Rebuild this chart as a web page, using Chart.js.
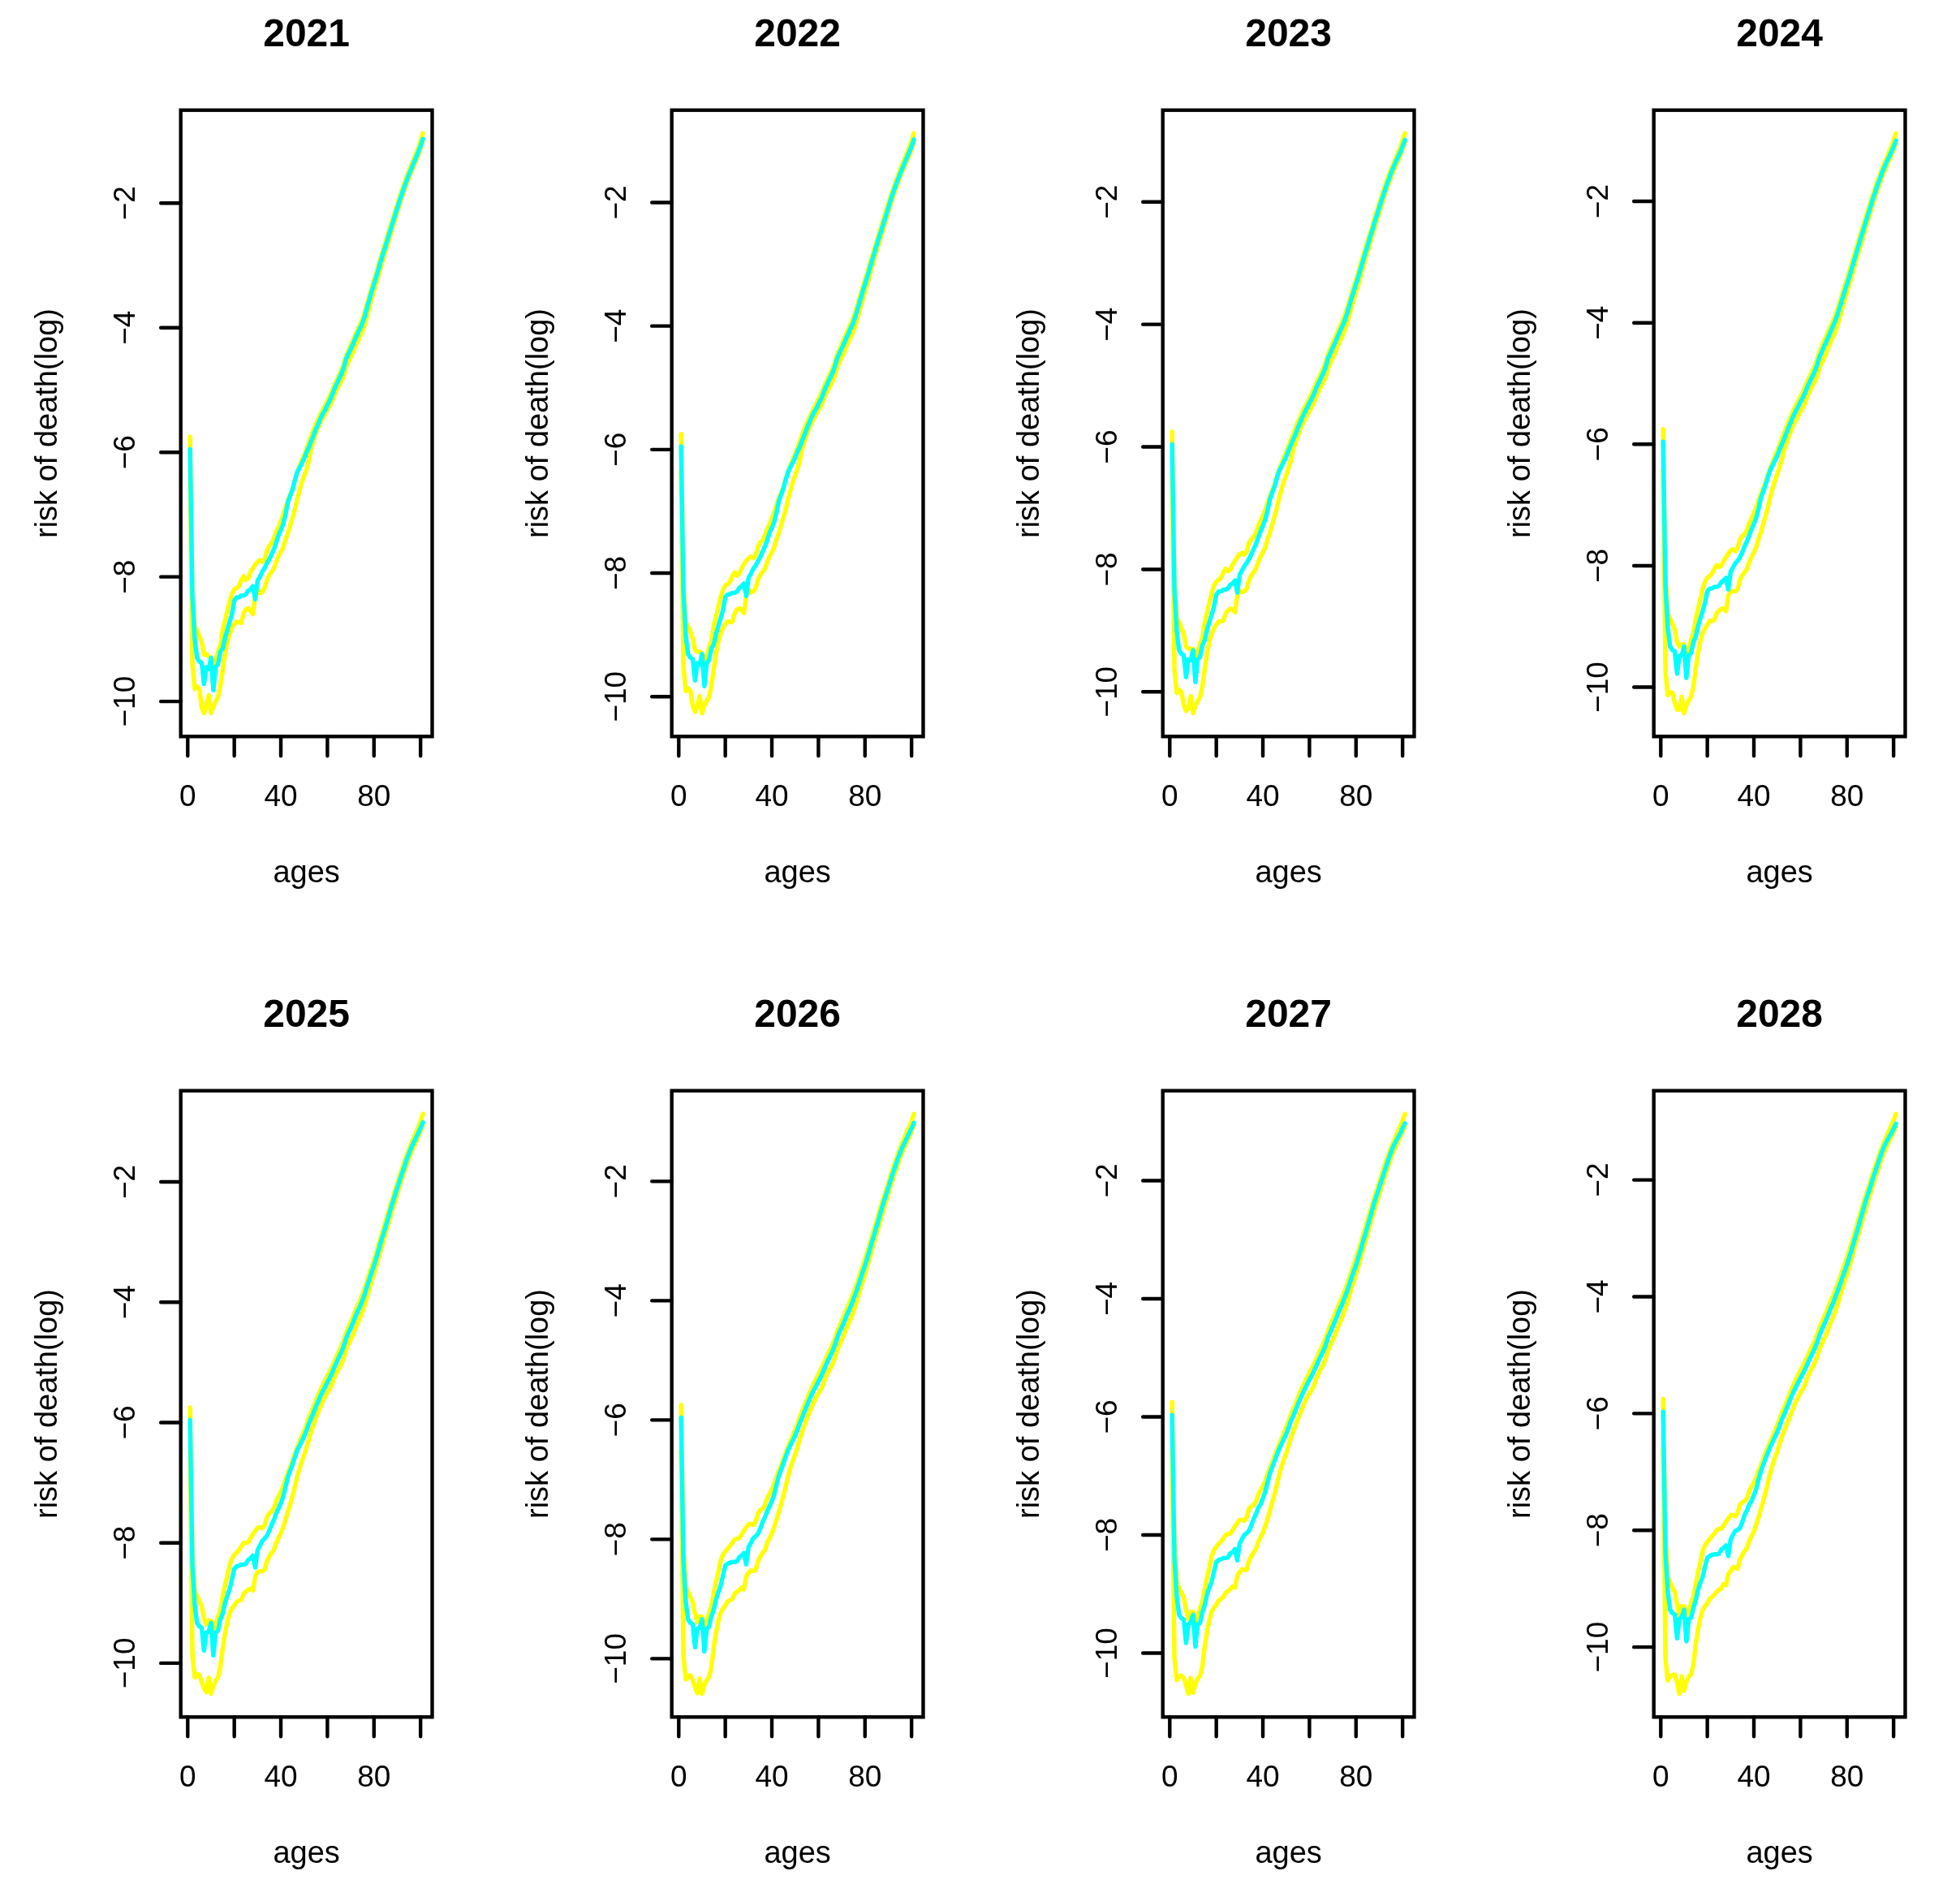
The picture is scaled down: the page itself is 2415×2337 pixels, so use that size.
<!DOCTYPE html>
<html>
<head>
<meta charset="utf-8">
<script src="https://cdn.jsdelivr.net/npm/chart.js@4.4.0/dist/chart.umd.min.js"></script>
<style>
html,body{margin:0;padding:0;background:#fff;}
#wrap{position:relative;width:2415px;height:2337px;overflow:hidden;background:#fff;}
#wrap canvas{position:absolute;}
</style>
</head>
<body>
<div id="wrap"></div>
<script>
const YEARS = ['2021','2022','2023','2024','2025','2026','2027','2028'];
const AGES = [1,2,3,4,5,6,7,8,9,10,11,12,13,14,15,16,17,18,19,20,21,22,23,24,25,26,27,28,29,30,
31,32,33,34,35,36,37,38,39,40,41,42,43,44,45,46,47,48,49,50,51,52,53,54,55,56,57,58,59,60,
61,62,63,64,65,66,67,68,69,70,71,72,73,74,75,76,77,78,79,80,81,82,83,84,85,86,87,88,89,90,
91,92,93,94,95,96,97,98,99,100,101];
const X_TICKS = [0,20,40,60,80,100];
const X_TICK_LABELS = ['0','','40','','80',''];
const Y_TICKS = [-10,-8,-6,-4,-2];
const Y_TICK_LABELS = ['\u221210','\u22128','\u22126','\u22124','\u22122'];
const X_TITLE = 'ages';
const Y_TITLE = 'risk of death(log)';

const MEDIAN_2021 = [-5.95,-8.3,-9.0,-9.3,-9.36,-9.38,-9.72,-9.45,-9.48,-9.3,
-9.82,-9.45,-9.4,-9.2,-9.15,-8.98,-8.85,-8.72,-8.6,-8.38,
-8.33,-8.33,-8.3,-8.3,-8.28,-8.22,-8.2,-8.15,-8.36,-8.06,
-8.0,-7.92,-7.86,-7.78,-7.72,-7.64,-7.56,-7.45,-7.33,-7.25,
-7.15,-7.0,-6.8,-6.7,-6.6,-6.45,-6.32,-6.25,-6.18,-6.1,
-6.0,-5.92,-5.82,-5.73,-5.63,-5.55,-5.46,-5.38,-5.32,-5.24,
-5.17,-5.08,-4.98,-4.9,-4.82,-4.74,-4.64,-4.5,-4.42,-4.34,
-4.26,-4.17,-4.09,-4.01,-3.93,-3.82,-3.68,-3.55,-3.42,-3.3,
-3.18,-3.05,-2.92,-2.8,-2.68,-2.56,-2.44,-2.32,-2.2,-2.08,
-1.96,-1.85,-1.74,-1.64,-1.54,-1.45,-1.36,-1.27,-1.18,-1.08,
-0.97];
const UPPER_2021 = [-5.75,-8.2,-8.8,-8.85,-8.95,-9.05,-9.25,-9.24,-9.28,-9.3,
-9.42,-9.34,-9.2,-9.1,-8.85,-8.7,-8.55,-8.4,-8.27,-8.2,
-8.18,-8.15,-8.05,-7.99,-8.05,-8.02,-7.92,-7.86,-7.8,-7.76,
-7.73,-7.76,-7.72,-7.58,-7.5,-7.46,-7.38,-7.27,-7.2,-7.1,
-7.0,-6.88,-6.78,-6.68,-6.6,-6.45,-6.33,-6.22,-6.12,-6.05,
-5.95,-5.84,-5.74,-5.64,-5.55,-5.47,-5.39,-5.32,-5.25,-5.17,
-5.1,-5.01,-4.92,-4.84,-4.76,-4.68,-4.58,-4.45,-4.37,-4.28,
-4.2,-4.11,-4.03,-3.95,-3.86,-3.75,-3.62,-3.49,-3.36,-3.24,
-3.12,-2.99,-2.86,-2.74,-2.62,-2.5,-2.38,-2.26,-2.14,-2.02,
-1.9,-1.79,-1.68,-1.58,-1.48,-1.39,-1.3,-1.21,-1.12,-1.0,
-0.88];
const LOWER_2021 = [-6.3,-9.4,-9.8,-9.76,-9.8,-10.1,-10.19,-10.05,-9.9,-10.19,
-10.08,-10.0,-9.93,-9.75,-9.5,-9.25,-9.05,-8.92,-8.82,-8.76,
-8.72,-8.73,-8.74,-8.58,-8.52,-8.5,-8.55,-8.6,-8.3,-8.2,
-8.26,-8.25,-8.18,-8.05,-7.97,-7.92,-7.87,-7.76,-7.67,-7.6,
-7.53,-7.4,-7.3,-7.17,-7.05,-6.93,-6.75,-6.62,-6.48,-6.38,
-6.28,-6.14,-5.94,-5.82,-5.7,-5.6,-5.52,-5.46,-5.38,-5.32,
-5.26,-5.18,-5.08,-5.0,-4.93,-4.86,-4.78,-4.64,-4.55,-4.47,
-4.39,-4.3,-4.22,-4.14,-4.06,-3.96,-3.82,-3.68,-3.54,-3.41,
-3.29,-3.15,-3.02,-2.89,-2.76,-2.64,-2.52,-2.39,-2.27,-2.14,
-2.02,-1.9,-1.79,-1.69,-1.59,-1.5,-1.41,-1.32,-1.23,-1.12,
-1.0];

const MEDIAN_2022 = [-5.95,-8.31,-9.01,-9.31,-9.37,-9.39,-9.74,-9.46,-9.48,-9.31,
-9.83,-9.46,-9.41,-9.22,-9.16,-8.99,-8.86,-8.73,-8.6,-8.39,
-8.35,-8.34,-8.32,-8.32,-8.3,-8.24,-8.21,-8.17,-8.37,-8.07,
-8.01,-7.93,-7.88,-7.81,-7.74,-7.65,-7.57,-7.47,-7.35,-7.27,
-7.17,-7.02,-6.83,-6.73,-6.62,-6.48,-6.36,-6.28,-6.21,-6.13,
-6.03,-5.95,-5.85,-5.76,-5.66,-5.57,-5.48,-5.4,-5.34,-5.26,
-5.19,-5.1,-5.0,-4.92,-4.84,-4.76,-4.66,-4.53,-4.44,-4.36,
-4.28,-4.19,-4.11,-4.02,-3.94,-3.83,-3.7,-3.57,-3.44,-3.32,
-3.2,-3.07,-2.94,-2.82,-2.69,-2.57,-2.45,-2.33,-2.21,-2.09,
-1.96,-1.85,-1.74,-1.64,-1.54,-1.45,-1.36,-1.27,-1.18,-1.09,
-0.98];
const UPPER_2022 = [-5.75,-8.19,-8.8,-8.86,-8.95,-9.05,-9.25,-9.27,-9.28,-9.3,
-9.42,-9.35,-9.21,-9.1,-8.86,-8.7,-8.55,-8.39,-8.27,-8.2,
-8.18,-8.14,-8.05,-7.99,-8.04,-8.01,-7.92,-7.86,-7.8,-7.76,
-7.73,-7.76,-7.72,-7.58,-7.5,-7.47,-7.39,-7.28,-7.21,-7.11,
-7.01,-6.89,-6.79,-6.69,-6.61,-6.47,-6.35,-6.25,-6.15,-6.07,
-5.97,-5.86,-5.76,-5.66,-5.57,-5.49,-5.41,-5.33,-5.26,-5.18,
-5.11,-5.02,-4.93,-4.85,-4.77,-4.69,-4.59,-4.46,-4.38,-4.29,
-4.21,-4.12,-4.04,-3.95,-3.86,-3.75,-3.63,-3.5,-3.37,-3.25,
-3.13,-3.0,-2.87,-2.75,-2.63,-2.5,-2.38,-2.26,-2.14,-2.02,
-1.9,-1.79,-1.68,-1.58,-1.47,-1.38,-1.29,-1.2,-1.11,-1.0,
-0.88];
const LOWER_2022 = [-6.34,-9.51,-9.91,-9.87,-9.9,-10.15,-10.25,-10.16,-9.99,-10.27,
-10.15,-10.07,-10.01,-9.83,-9.56,-9.31,-9.11,-8.98,-8.89,-8.83,
-8.78,-8.79,-8.79,-8.65,-8.59,-8.57,-8.6,-8.65,-8.36,-8.27,
-8.31,-8.3,-8.25,-8.11,-8.03,-7.98,-7.93,-7.82,-7.73,-7.66,
-7.58,-7.45,-7.35,-7.22,-7.09,-6.97,-6.79,-6.66,-6.52,-6.42,
-6.31,-6.18,-5.99,-5.87,-5.76,-5.66,-5.57,-5.51,-5.43,-5.36,
-5.3,-5.22,-5.12,-5.04,-4.97,-4.9,-4.82,-4.68,-4.59,-4.51,
-4.43,-4.33,-4.25,-4.17,-4.09,-3.98,-3.84,-3.71,-3.57,-3.44,
-3.32,-3.18,-3.05,-2.91,-2.78,-2.66,-2.54,-2.41,-2.28,-2.15,
-2.03,-1.91,-1.8,-1.7,-1.59,-1.5,-1.41,-1.32,-1.24,-1.13,
-1.01];

const MEDIAN_2023 = [-5.96,-8.33,-9.01,-9.32,-9.38,-9.4,-9.76,-9.47,-9.48,-9.32,
-9.84,-9.47,-9.43,-9.24,-9.16,-8.99,-8.86,-8.74,-8.61,-8.41,
-8.36,-8.36,-8.33,-8.33,-8.31,-8.25,-8.23,-8.18,-8.38,-8.09,
-8.02,-7.95,-7.9,-7.83,-7.76,-7.67,-7.59,-7.48,-7.38,-7.29,
-7.19,-7.04,-6.86,-6.75,-6.65,-6.51,-6.39,-6.32,-6.24,-6.16,
-6.06,-5.97,-5.88,-5.79,-5.69,-5.6,-5.51,-5.43,-5.36,-5.28,
-5.21,-5.13,-5.03,-4.95,-4.87,-4.79,-4.69,-4.55,-4.47,-4.38,
-4.3,-4.21,-4.12,-4.04,-3.95,-3.84,-3.71,-3.58,-3.46,-3.34,
-3.22,-3.09,-2.96,-2.83,-2.71,-2.58,-2.46,-2.33,-2.21,-2.09,
-1.97,-1.86,-1.74,-1.64,-1.53,-1.44,-1.35,-1.27,-1.19,-1.09,
-0.99];
const UPPER_2023 = [-5.75,-8.17,-8.8,-8.86,-8.96,-9.05,-9.26,-9.3,-9.29,-9.3,
-9.43,-9.35,-9.21,-9.11,-8.87,-8.71,-8.55,-8.39,-8.26,-8.2,
-8.17,-8.14,-8.05,-7.99,-8.03,-8.01,-7.92,-7.86,-7.8,-7.75,
-7.73,-7.76,-7.71,-7.57,-7.51,-7.47,-7.4,-7.29,-7.21,-7.12,
-7.03,-6.91,-6.81,-6.71,-6.62,-6.49,-6.37,-6.27,-6.17,-6.09,
-5.99,-5.88,-5.79,-5.69,-5.59,-5.51,-5.42,-5.35,-5.28,-5.2,
-5.13,-5.04,-4.95,-4.87,-4.79,-4.71,-4.61,-4.48,-4.39,-4.3,
-4.22,-4.13,-4.04,-3.96,-3.87,-3.76,-3.63,-3.51,-3.38,-3.27,
-3.14,-3.01,-2.88,-2.76,-2.63,-2.51,-2.39,-2.26,-2.14,-2.02,
-1.9,-1.79,-1.67,-1.57,-1.47,-1.38,-1.29,-1.2,-1.11,-0.99,
-0.88];
const LOWER_2023 = [-6.39,-9.63,-10.02,-9.97,-10.0,-10.21,-10.31,-10.27,-10.07,-10.35,
-10.23,-10.15,-10.09,-9.91,-9.63,-9.38,-9.18,-9.05,-8.96,-8.9,
-8.85,-8.85,-8.84,-8.72,-8.67,-8.64,-8.66,-8.7,-8.43,-8.35,
-8.37,-8.36,-8.32,-8.18,-8.1,-8.05,-7.99,-7.88,-7.79,-7.72,
-7.64,-7.51,-7.4,-7.27,-7.14,-7.0,-6.83,-6.7,-6.56,-6.46,
-6.35,-6.22,-6.04,-5.93,-5.82,-5.72,-5.63,-5.56,-5.48,-5.41,
-5.35,-5.27,-5.17,-5.09,-5.01,-4.94,-4.86,-4.72,-4.63,-4.55,
-4.47,-4.37,-4.28,-4.2,-4.11,-4.01,-3.87,-3.73,-3.6,-3.47,
-3.35,-3.21,-3.07,-2.94,-2.81,-2.68,-2.55,-2.42,-2.3,-2.17,
-2.05,-1.92,-1.81,-1.7,-1.6,-1.51,-1.42,-1.33,-1.24,-1.14,
-1.03];

const MEDIAN_2024 = [-5.96,-8.34,-9.02,-9.33,-9.39,-9.41,-9.78,-9.48,-9.48,-9.33,
-9.85,-9.48,-9.44,-9.26,-9.17,-9.0,-8.87,-8.75,-8.61,-8.42,
-8.38,-8.37,-8.35,-8.35,-8.33,-8.27,-8.24,-8.2,-8.39,-8.1,
-8.03,-7.96,-7.92,-7.86,-7.78,-7.68,-7.6,-7.5,-7.4,-7.31,
-7.21,-7.06,-6.88,-6.78,-6.67,-6.54,-6.43,-6.35,-6.27,-6.19,
-6.09,-6.0,-5.91,-5.81,-5.71,-5.62,-5.53,-5.45,-5.38,-5.3,
-5.23,-5.15,-5.05,-4.97,-4.89,-4.81,-4.71,-4.58,-4.49,-4.4,
-4.32,-4.23,-4.14,-4.05,-3.96,-3.85,-3.73,-3.6,-3.48,-3.36,
-3.24,-3.11,-2.98,-2.85,-2.72,-2.59,-2.47,-2.34,-2.22,-2.1,
-1.97,-1.86,-1.74,-1.64,-1.53,-1.44,-1.35,-1.27,-1.19,-1.1,
-1.0];
const UPPER_2024 = [-5.75,-8.16,-8.8,-8.87,-8.96,-9.05,-9.26,-9.33,-9.29,-9.3,
-9.43,-9.36,-9.22,-9.11,-8.88,-8.71,-8.55,-8.38,-8.26,-8.2,
-8.17,-8.13,-8.05,-7.99,-8.02,-8.0,-7.92,-7.86,-7.8,-7.75,
-7.73,-7.76,-7.71,-7.57,-7.51,-7.48,-7.41,-7.3,-7.22,-7.13,
-7.04,-6.92,-6.82,-6.72,-6.63,-6.51,-6.39,-6.3,-6.2,-6.11,
-6.01,-5.9,-5.81,-5.71,-5.61,-5.53,-5.44,-5.36,-5.29,-5.21,
-5.14,-5.05,-4.96,-4.88,-4.8,-4.72,-4.62,-4.49,-4.4,-4.31,
-4.23,-4.14,-4.05,-3.96,-3.87,-3.76,-3.64,-3.52,-3.39,-3.28,
-3.15,-3.02,-2.89,-2.77,-2.64,-2.51,-2.39,-2.26,-2.14,-2.02,
-1.9,-1.79,-1.67,-1.57,-1.46,-1.37,-1.28,-1.19,-1.1,-0.99,
-0.88];
const LOWER_2024 = [-6.43,-9.74,-10.13,-10.08,-10.09,-10.26,-10.37,-10.37,-10.16,-10.43,
-10.3,-10.22,-10.16,-9.99,-9.69,-9.44,-9.24,-9.11,-9.03,-8.97,
-8.91,-8.91,-8.89,-8.78,-8.74,-8.71,-8.71,-8.75,-8.49,-8.42,
-8.42,-8.42,-8.39,-8.24,-8.16,-8.11,-8.05,-7.94,-7.85,-7.78,
-7.69,-7.56,-7.45,-7.31,-7.18,-7.04,-6.87,-6.73,-6.6,-6.5,
-6.38,-6.25,-6.09,-5.98,-5.87,-5.77,-5.68,-5.61,-5.53,-5.46,
-5.4,-5.32,-5.21,-5.13,-5.05,-4.98,-4.9,-4.76,-4.67,-4.59,
-4.5,-4.4,-4.31,-4.23,-4.14,-4.03,-3.89,-3.76,-3.63,-3.5,
-3.37,-3.24,-3.1,-2.96,-2.83,-2.7,-2.57,-2.44,-2.31,-2.18,
-2.06,-1.93,-1.82,-1.71,-1.6,-1.51,-1.42,-1.33,-1.25,-1.15,
-1.04];

const MEDIAN_2025 = [-5.96,-8.36,-9.03,-9.33,-9.39,-9.41,-9.79,-9.49,-9.48,-9.33,
-9.87,-9.49,-9.46,-9.27,-9.18,-9.0,-8.88,-8.77,-8.61,-8.43,
-8.39,-8.38,-8.36,-8.36,-8.35,-8.28,-8.26,-8.21,-8.41,-8.12,
-8.05,-7.97,-7.93,-7.88,-7.8,-7.7,-7.62,-7.51,-7.43,-7.34,
-7.23,-7.07,-6.91,-6.8,-6.7,-6.58,-6.46,-6.39,-6.31,-6.23,
-6.13,-6.02,-5.93,-5.84,-5.74,-5.65,-5.56,-5.48,-5.41,-5.33,
-5.26,-5.17,-5.08,-4.99,-4.91,-4.83,-4.73,-4.6,-4.51,-4.43,
-4.34,-4.24,-4.15,-4.07,-3.97,-3.87,-3.74,-3.62,-3.5,-3.39,
-3.26,-3.13,-2.99,-2.87,-2.74,-2.61,-2.47,-2.34,-2.22,-2.1,
-1.98,-1.86,-1.75,-1.63,-1.53,-1.43,-1.35,-1.27,-1.19,-1.1,
-1.01];
const UPPER_2025 = [-5.75,-8.14,-8.8,-8.88,-8.97,-9.05,-9.26,-9.36,-9.29,-9.3,
-9.44,-9.36,-9.23,-9.12,-8.89,-8.71,-8.55,-8.37,-8.26,-8.2,
-8.16,-8.12,-8.06,-8.0,-8.0,-7.99,-7.92,-7.85,-7.8,-7.75,
-7.74,-7.76,-7.71,-7.57,-7.51,-7.48,-7.42,-7.3,-7.23,-7.15,
-7.06,-6.94,-6.84,-6.74,-6.64,-6.52,-6.42,-6.32,-6.22,-6.14,
-6.04,-5.92,-5.83,-5.73,-5.64,-5.54,-5.46,-5.38,-5.3,-5.22,
-5.15,-5.07,-4.98,-4.89,-4.81,-4.73,-4.63,-4.51,-4.42,-4.33,
-4.24,-4.14,-4.05,-3.97,-3.87,-3.77,-3.65,-3.52,-3.41,-3.29,
-3.17,-3.04,-2.91,-2.78,-2.65,-2.52,-2.39,-2.27,-2.15,-2.03,
-1.9,-1.78,-1.67,-1.56,-1.46,-1.36,-1.27,-1.18,-1.09,-0.99,
-0.87];
const LOWER_2025 = [-6.47,-9.86,-10.24,-10.18,-10.19,-10.31,-10.42,-10.48,-10.24,-10.51,
-10.38,-10.29,-10.24,-10.06,-9.76,-9.51,-9.31,-9.17,-9.09,-9.04,
-8.98,-8.96,-8.95,-8.85,-8.81,-8.78,-8.76,-8.79,-8.56,-8.49,
-8.47,-8.47,-8.45,-8.31,-8.23,-8.17,-8.12,-8.0,-7.92,-7.84,
-7.74,-7.62,-7.49,-7.36,-7.22,-7.07,-6.9,-6.77,-6.64,-6.54,
-6.42,-6.29,-6.15,-6.04,-5.93,-5.83,-5.74,-5.65,-5.57,-5.5,
-5.44,-5.36,-5.25,-5.17,-5.1,-5.03,-4.93,-4.8,-4.7,-4.62,
-4.54,-4.44,-4.35,-4.26,-4.16,-4.05,-3.92,-3.78,-3.65,-3.53,
-3.4,-3.26,-3.12,-2.99,-2.85,-2.72,-2.59,-2.45,-2.33,-2.2,
-2.07,-1.95,-1.83,-1.72,-1.61,-1.51,-1.42,-1.34,-1.25,-1.15,
-1.05];

const MEDIAN_2026 = [-5.96,-8.37,-9.04,-9.34,-9.4,-9.42,-9.81,-9.5,-9.48,-9.34,
-9.88,-9.5,-9.47,-9.29,-9.19,-9.01,-8.89,-8.78,-8.61,-8.44,
-8.41,-8.39,-8.38,-8.38,-8.37,-8.3,-8.27,-8.23,-8.42,-8.13,
-8.06,-7.98,-7.95,-7.91,-7.82,-7.71,-7.63,-7.53,-7.45,-7.36,
-7.25,-7.09,-6.93,-6.83,-6.72,-6.61,-6.5,-6.42,-6.34,-6.26,
-6.16,-6.05,-5.96,-5.86,-5.76,-5.67,-5.58,-5.5,-5.43,-5.35,
-5.28,-5.19,-5.1,-5.01,-4.93,-4.85,-4.75,-4.63,-4.53,-4.45,
-4.36,-4.26,-4.17,-4.08,-3.98,-3.88,-3.76,-3.64,-3.52,-3.41,
-3.28,-3.15,-3.01,-2.89,-2.75,-2.62,-2.48,-2.35,-2.23,-2.11,
-1.98,-1.86,-1.75,-1.63,-1.53,-1.43,-1.35,-1.27,-1.19,-1.11,
-1.02];
const UPPER_2026 = [-5.75,-8.13,-8.8,-8.89,-8.97,-9.05,-9.26,-9.39,-9.29,-9.3,
-9.44,-9.37,-9.24,-9.12,-8.9,-8.71,-8.55,-8.36,-8.26,-8.2,
-8.16,-8.11,-8.06,-8.0,-7.99,-7.98,-7.92,-7.85,-7.8,-7.75,
-7.74,-7.76,-7.71,-7.57,-7.51,-7.49,-7.43,-7.31,-7.24,-7.16,
-7.07,-6.95,-6.85,-6.75,-6.65,-6.54,-6.44,-6.35,-6.25,-6.16,
-6.06,-5.94,-5.85,-5.75,-5.66,-5.56,-5.48,-5.39,-5.31,-5.23,
-5.16,-5.08,-4.99,-4.9,-4.82,-4.74,-4.64,-4.52,-4.43,-4.34,
-4.25,-4.15,-4.06,-3.97,-3.87,-3.77,-3.66,-3.53,-3.42,-3.3,
-3.18,-3.05,-2.92,-2.79,-2.66,-2.52,-2.39,-2.27,-2.15,-2.03,
-1.9,-1.78,-1.67,-1.56,-1.45,-1.35,-1.26,-1.17,-1.08,-0.99,
-0.87];
const LOWER_2026 = [-6.51,-9.97,-10.35,-10.29,-10.28,-10.36,-10.48,-10.58,-10.33,-10.59,
-10.45,-10.36,-10.31,-10.14,-9.82,-9.57,-9.37,-9.23,-9.16,-9.11,
-9.04,-9.02,-9.0,-8.91,-8.88,-8.85,-8.81,-8.84,-8.62,-8.56,
-8.52,-8.53,-8.52,-8.37,-8.29,-8.23,-8.18,-8.06,-7.98,-7.9,
-7.79,-7.67,-7.54,-7.4,-7.26,-7.11,-6.94,-6.8,-6.68,-6.58,
-6.45,-6.32,-6.2,-6.09,-5.98,-5.88,-5.79,-5.7,-5.62,-5.55,
-5.49,-5.41,-5.29,-5.21,-5.14,-5.07,-4.97,-4.84,-4.74,-4.66,
-4.57,-4.47,-4.38,-4.29,-4.19,-4.07,-3.94,-3.81,-3.68,-3.56,
-3.42,-3.29,-3.15,-3.01,-2.87,-2.74,-2.61,-2.47,-2.34,-2.21,
-2.08,-1.96,-1.84,-1.73,-1.61,-1.51,-1.42,-1.34,-1.26,-1.16,
-1.06];

const MEDIAN_2027 = [-5.97,-8.39,-9.04,-9.35,-9.41,-9.43,-9.83,-9.51,-9.48,-9.35,
-9.89,-9.51,-9.49,-9.31,-9.19,-9.01,-8.89,-8.79,-8.62,-8.46,
-8.42,-8.41,-8.39,-8.39,-8.38,-8.31,-8.29,-8.24,-8.43,-8.15,
-8.07,-8.0,-7.97,-7.93,-7.84,-7.73,-7.65,-7.54,-7.48,-7.38,
-7.27,-7.11,-6.96,-6.85,-6.75,-6.64,-6.54,-6.46,-6.37,-6.29,
-6.19,-6.07,-5.99,-5.89,-5.79,-5.7,-5.61,-5.53,-5.45,-5.37,
-5.3,-5.22,-5.13,-5.04,-4.96,-4.88,-4.78,-4.65,-4.56,-4.47,
-4.38,-4.28,-4.18,-4.1,-3.99,-3.89,-3.77,-3.65,-3.54,-3.43,
-3.3,-3.17,-3.03,-2.9,-2.77,-2.63,-2.49,-2.35,-2.23,-2.11,
-1.99,-1.87,-1.75,-1.63,-1.52,-1.42,-1.34,-1.27,-1.2,-1.11,
-1.03];
const UPPER_2027 = [-5.75,-8.11,-8.8,-8.89,-8.98,-9.05,-9.27,-9.42,-9.3,-9.3,
-9.45,-9.37,-9.24,-9.13,-8.91,-8.72,-8.55,-8.36,-8.25,-8.2,
-8.15,-8.11,-8.06,-8.0,-7.98,-7.98,-7.92,-7.85,-7.8,-7.74,
-7.74,-7.76,-7.7,-7.56,-7.52,-7.49,-7.44,-7.32,-7.24,-7.17,
-7.09,-6.97,-6.87,-6.77,-6.66,-6.56,-6.46,-6.37,-6.27,-6.18,
-6.08,-5.96,-5.88,-5.78,-5.68,-5.58,-5.49,-5.41,-5.33,-5.25,
-5.18,-5.1,-5.01,-4.92,-4.84,-4.76,-4.66,-4.54,-4.44,-4.35,
-4.26,-4.16,-4.06,-3.98,-3.88,-3.78,-3.66,-3.54,-3.43,-3.32,
-3.19,-3.06,-2.93,-2.8,-2.66,-2.53,-2.4,-2.27,-2.15,-2.03,
-1.9,-1.78,-1.66,-1.55,-1.45,-1.35,-1.26,-1.17,-1.08,-0.98,
-0.87];
const LOWER_2027 = [-6.56,-10.09,-10.46,-10.4,-10.38,-10.42,-10.54,-10.69,-10.42,-10.67,
-10.53,-10.43,-10.39,-10.22,-9.89,-9.64,-9.44,-9.3,-9.23,-9.18,
-9.11,-9.08,-9.05,-8.98,-8.95,-8.92,-8.87,-8.89,-8.69,-8.63,
-8.58,-8.59,-8.59,-8.44,-8.36,-8.3,-8.24,-8.12,-8.04,-7.96,
-7.85,-7.73,-7.59,-7.45,-7.31,-7.15,-6.98,-6.84,-6.72,-6.62,
-6.49,-6.36,-6.25,-6.15,-6.04,-5.94,-5.85,-5.75,-5.67,-5.6,
-5.54,-5.46,-5.34,-5.26,-5.18,-5.11,-5.01,-4.88,-4.78,-4.7,
-4.61,-4.51,-4.41,-4.32,-4.21,-4.1,-3.97,-3.83,-3.71,-3.59,
-3.45,-3.32,-3.17,-3.04,-2.9,-2.76,-2.62,-2.48,-2.36,-2.23,
-2.1,-1.97,-1.85,-1.73,-1.62,-1.52,-1.43,-1.35,-1.26,-1.17,
-1.08];

const MEDIAN_2028 = [-5.97,-8.4,-9.05,-9.36,-9.42,-9.44,-9.85,-9.52,-9.48,-9.36,
-9.9,-9.52,-9.5,-9.33,-9.2,-9.02,-8.9,-8.8,-8.62,-8.47,
-8.44,-8.42,-8.41,-8.41,-8.4,-8.33,-8.3,-8.26,-8.44,-8.16,
-8.08,-8.01,-7.99,-7.96,-7.86,-7.74,-7.66,-7.56,-7.5,-7.4,
-7.29,-7.13,-6.99,-6.88,-6.77,-6.67,-6.57,-6.49,-6.4,-6.32,
-6.22,-6.1,-6.02,-5.92,-5.82,-5.72,-5.63,-5.55,-5.47,-5.39,
-5.32,-5.24,-5.15,-5.06,-4.98,-4.9,-4.8,-4.68,-4.58,-4.49,
-4.4,-4.3,-4.2,-4.11,-4.0,-3.9,-3.79,-3.67,-3.56,-3.45,
-3.32,-3.19,-3.05,-2.92,-2.78,-2.64,-2.5,-2.36,-2.24,-2.12,
-1.99,-1.87,-1.75,-1.63,-1.52,-1.42,-1.34,-1.27,-1.2,-1.12,
-1.04];
const UPPER_2028 = [-5.75,-8.1,-8.8,-8.9,-8.98,-9.05,-9.27,-9.45,-9.3,-9.3,
-9.45,-9.38,-9.25,-9.13,-8.92,-8.72,-8.55,-8.35,-8.25,-8.2,
-8.15,-8.1,-8.06,-8.0,-7.97,-7.97,-7.92,-7.85,-7.8,-7.74,
-7.74,-7.76,-7.7,-7.56,-7.52,-7.5,-7.45,-7.33,-7.25,-7.18,
-7.1,-6.98,-6.88,-6.78,-6.67,-6.58,-6.48,-6.4,-6.3,-6.2,
-6.1,-5.98,-5.9,-5.8,-5.7,-5.6,-5.51,-5.42,-5.34,-5.26,
-5.19,-5.11,-5.02,-4.93,-4.85,-4.77,-4.67,-4.55,-4.45,-4.36,
-4.27,-4.17,-4.07,-3.98,-3.88,-3.78,-3.67,-3.55,-3.44,-3.33,
-3.2,-3.07,-2.94,-2.81,-2.67,-2.53,-2.4,-2.27,-2.15,-2.03,
-1.9,-1.78,-1.66,-1.55,-1.44,-1.34,-1.25,-1.16,-1.07,-0.98,
-0.87];
const LOWER_2028 = [-6.6,-10.2,-10.57,-10.5,-10.48,-10.47,-10.6,-10.8,-10.5,-10.75,
-10.6,-10.5,-10.47,-10.3,-9.95,-9.7,-9.5,-9.36,-9.3,-9.25,
-9.17,-9.14,-9.1,-9.05,-9.02,-8.99,-8.92,-8.94,-8.75,-8.7,
-8.63,-8.64,-8.66,-8.5,-8.42,-8.36,-8.3,-8.18,-8.1,-8.02,
-7.9,-7.78,-7.64,-7.5,-7.35,-7.18,-7.02,-6.88,-6.76,-6.66,
-6.52,-6.4,-6.3,-6.2,-6.1,-6.0,-5.9,-5.8,-5.72,-5.64,
-5.58,-5.5,-5.38,-5.3,-5.22,-5.15,-5.05,-4.92,-4.82,-4.74,
-4.65,-4.54,-4.44,-4.35,-4.24,-4.12,-3.99,-3.86,-3.74,-3.62,
-3.48,-3.35,-3.2,-3.06,-2.92,-2.78,-2.64,-2.5,-2.37,-2.24,
-2.11,-1.98,-1.86,-1.74,-1.62,-1.52,-1.43,-1.35,-1.27,-1.18,
-1.09];

const MEDIANS = [MEDIAN_2021,MEDIAN_2022,MEDIAN_2023,MEDIAN_2024,MEDIAN_2025,MEDIAN_2026,MEDIAN_2027,MEDIAN_2028];
const UPPERS  = [UPPER_2021,UPPER_2022,UPPER_2023,UPPER_2024,UPPER_2025,UPPER_2026,UPPER_2027,UPPER_2028];
const LOWERS  = [LOWER_2021,LOWER_2022,LOWER_2023,LOWER_2024,LOWER_2025,LOWER_2026,LOWER_2027,LOWER_2028];

// ---------- layout / style (not data) ----------
const FONT = '"Liberation Sans", Arial, Helvetica, sans-serif';
const COL_STEP = 605;
const ROW_TOPS = [0, 1208];
const ROW_HEIGHTS = [1168, 1129];
const CANVAS_W = 600;
const BOX = {l: 222.7, r: 532.5, t: 135.7, b: 907.3};

const rStyle = {
  id: 'rStyle',
  afterDatasetsDraw(chart, args, opts) {
    const ctx = chart.ctx;
    const a = chart.chartArea;
    const xs = chart.scales.x, ys = chart.scales.y;
    ctx.save();
    ctx.strokeStyle = '#000';
    ctx.fillStyle = '#000';
    ctx.lineWidth = 4.4;
    ctx.lineJoin = 'miter';
    ctx.strokeRect(a.left, a.top, a.right - a.left, a.bottom - a.top);
    ctx.lineCap = 'round';
    ctx.beginPath();
    X_TICKS.forEach(v => {
      const px = xs.getPixelForValue(v);
      ctx.moveTo(px, a.bottom); ctx.lineTo(px, a.bottom + 24);
    });
    Y_TICKS.forEach(v => {
      const py = ys.getPixelForValue(v);
      ctx.moveTo(a.left, py); ctx.lineTo(a.left - 24.5, py);
    });
    ctx.stroke();
    ctx.textAlign = 'center';
    ctx.textBaseline = 'alphabetic';
    ctx.font = '37px ' + FONT;
    X_TICKS.forEach((v, i) => {
      if (X_TICK_LABELS[i]) ctx.fillText(X_TICK_LABELS[i], xs.getPixelForValue(v), a.bottom + 86);
    });
    Y_TICKS.forEach((v, i) => {
      ctx.save();
      ctx.translate(a.left - 57, ys.getPixelForValue(v));
      ctx.rotate(-Math.PI / 2);
      ctx.fillText(Y_TICK_LABELS[i], 0, 0);
      ctx.restore();
    });
    const cx = (a.left + a.right) / 2, cy = (a.top + a.bottom) / 2;
    ctx.font = '38px ' + FONT;
    ctx.fillText(X_TITLE, cx, a.bottom + 180);
    ctx.save();
    ctx.translate(a.left - 152.7, cy);
    ctx.rotate(-Math.PI / 2);
    ctx.fillText(Y_TITLE, 0, 0);
    ctx.restore();
    ctx.font = 'bold 48px ' + FONT;
    ctx.fillText(opts.title, cx, a.top - 79);
    ctx.restore();
  }
};

function series(vals) {
  return AGES.map((a, i) => ({x: a, y: vals[i]}));
}

const wrap = document.getElementById('wrap');
YEARS.forEach((year, idx) => {
  const col = idx % 4, row = Math.floor(idx / 4);
  const H = ROW_HEIGHTS[row];
  const canvas = document.createElement('canvas');
  canvas.width = CANVAS_W; canvas.height = H;
  canvas.style.width = CANVAS_W + 'px'; canvas.style.height = H + 'px';
  canvas.style.left = (col * COL_STEP) + 'px';
  canvas.style.top = ROW_TOPS[row] + 'px';
  wrap.appendChild(canvas);

  const all = MEDIANS[idx].concat(UPPERS[idx], LOWERS[idx]);
  const lo = Math.min.apply(null, all), hi = Math.max.apply(null, all);
  const ext = 0.04 * (hi - lo);
  const xlo = AGES[0], xhi = AGES[AGES.length - 1], xext = 0.04 * (xhi - xlo);

  const lineStyle = {borderWidth: 5.4, pointRadius: 0, tension: 0, fill: false,
    borderJoinStyle: 'round', borderCapStyle: 'round'};

  new Chart(canvas.getContext('2d'), {
    type: 'line',
    data: {
      datasets: [
        Object.assign({label: 'median', data: series(MEDIANS[idx]), borderColor: '#00FFFF'}, lineStyle),
        Object.assign({label: 'upper', data: series(UPPERS[idx]), borderColor: '#FFFF00'}, lineStyle),
        Object.assign({label: 'lower', data: series(LOWERS[idx]), borderColor: '#FFFF00'}, lineStyle)
      ]
    },
    options: {
      responsive: false,
      animation: false,
      devicePixelRatio: 1,
      events: [],
      layout: {padding: {left: BOX.l, right: CANVAS_W - BOX.r, top: BOX.t, bottom: H - BOX.b}},
      plugins: {
        legend: {display: false},
        tooltip: {enabled: false},
        title: {display: false},
        rStyle: {title: year}
      },
      scales: {
        x: {type: 'linear', min: xlo - xext, max: xhi + xext, display: false},
        y: {type: 'linear', min: lo - ext, max: hi + ext, display: false}
      }
    },
    plugins: [rStyle]
  });
});
</script>
</body>
</html>
